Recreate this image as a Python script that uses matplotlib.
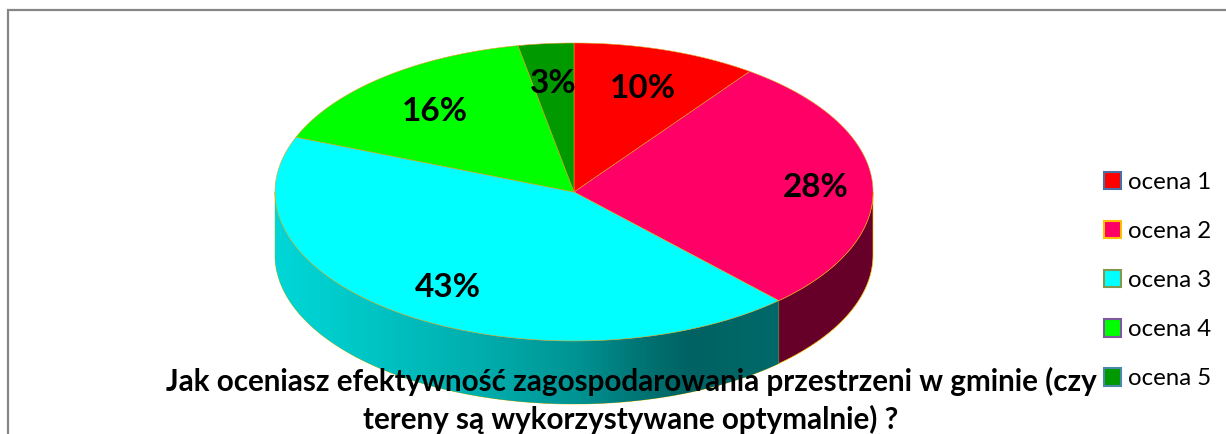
import numpy as np
import matplotlib
matplotlib.use("Agg")
import matplotlib.pyplot as plt
from matplotlib.patches import Polygon, Patch

categories = ["ocena 1", "ocena 2", "ocena 3", "ocena 4", "ocena 5"]
values = [10, 28, 43, 16, 3]
title = "Jak oceniasz efektywność zagospodarowania przestrzeni w gminie (czy\ntereny są wykorzystywane optymalnie) ?"

colors = ["#ff0000", "#ff0066", "#00ffff", "#00ff00", "#009900"]
edge_colors = ["#4a6fa5", "#ffc000", "#7f9a50", "#7d5aa0", "#4a8aa8"]
side_colors = ["#800000", "#660029", "#008080", "#008000", "#004d00"]

CX, CY = 574, 192    # centre of the top face, in pixels
RX, RY = 299, 149    # radii of the ellipse
DEPTH = 63           # height of the pie side
LABEL_R = [0.75, 0.81, 0.75, 0.73, 0.75]
LABEL_DROP = 3       # percent labels sit a bit under the computed spot


def arc(start, stop, dy=0):
    """points on the ellipse, angles in degrees clockwise from the top"""
    t = np.radians(np.linspace(start, stop, 200))
    return np.column_stack([CX + RX * np.sin(t), CY - RY * np.cos(t) + dy])


fig = plt.figure(figsize=(12.26, 4.34), dpi=100)
ax = fig.add_axes([0, 0, 1, 1])
ax.axis("off")

# frame around the chart, cut off by the crop on the right and bottom
ax.plot([8.3, 8.3, 1226], [434, 9.8, 9.8], color="#868686", lw=1.6, solid_joinstyle="miter")

edges = np.cumsum([0] + values) / sum(values) * 360

# side of the pie, only the front half is visible
for i in range(len(values)):
    start, stop = max(edges[i], 90), min(edges[i + 1], 270)
    if start >= stop:
        continue
    top = arc(start, stop)
    bottom = arc(stop, start, DEPTH)
    side = Polygon(np.vstack([top, bottom]), closed=True, facecolor=side_colors[i],
                   edgecolor=edge_colors[1], lw=0.5, zorder=2)
    ax.add_patch(side)
    if categories[i] == "ocena 3":
        # the cyan side fades from light on the left to dark on the right
        x0, x1 = top[:, 0].min(), top[:, 0].max()
        xs = np.linspace(x0, x1, 300)
        shade = np.interp(xs, [275, 330, 495, 576, 638, 690, 778], [215, 205, 170, 148, 118, 98, 105])
        grad = np.stack([np.zeros_like(shade), shade, shade], axis=-1)[None, :, :].astype(np.uint8)
        im = ax.imshow(grad, extent=[x0, x1, CY + RY + DEPTH, CY], aspect="auto",
                       interpolation="bilinear", zorder=3)
        im.set_clip_path(side)

ax.set_xlim(0, 1226)
ax.set_ylim(434, 0)

# top face
for i in range(len(values)):
    pts = np.vstack([[CX, CY], arc(edges[i], edges[i + 1])])
    ax.add_patch(Polygon(pts, closed=True, facecolor=colors[i], edgecolor="#e0a020",
                         lw=0.4, zorder=4))

# percent labels
for i, v in enumerate(values):
    mid = np.radians((edges[i] + edges[i + 1]) / 2)
    ax.text(CX + LABEL_R[i] * RX * np.sin(mid), CY - LABEL_R[i] * RY * np.cos(mid) + LABEL_DROP, f"{v}%",
            family="Lato", weight="bold", fontsize=24, ha="center", va="center", color="black", zorder=6)

ax.text(631, 400.5, title, family="Lato", weight="bold", fontsize=21.3, ha="center", va="center",
        linespacing=1.34, color="black", zorder=7)

handles = [Patch(facecolor=c, edgecolor=e, lw=1.5) for c, e in zip(colors, edge_colors)]
leg = ax.legend(handles, categories, loc="upper left", bbox_to_anchor=(1104 / 1226, 1 - 172 / 434),
                frameon=False, prop={"family": "Lato", "size": 17.3}, handlelength=0.72, handleheight=0.72,
                handletextpad=0.27, labelspacing=1.17, borderaxespad=0, borderpad=0)
leg.set_zorder(8)

fig.savefig("out.png", dpi=100)
